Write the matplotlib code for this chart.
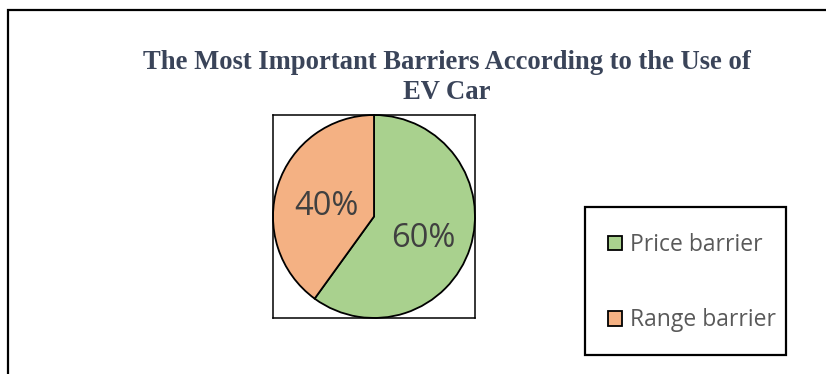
import matplotlib.pyplot as plt
from matplotlib.patches import Rectangle

# dados do gráfico
categorias = ['Price barrier', 'Range barrier']
valores = [60, 40]
cores = ['#a9d18e', '#f4b183']
titulo = 'The Most Important Barriers According to the Use of\nEV Car'

W, H = 826, 374
fig = plt.figure(figsize=(W / 100, H / 100), dpi=100)

# moldura externa (cortada à direita e embaixo)
fig.patches.append(Rectangle((8 / W, -0.1), 1.2, (H - 10) / H + 0.1,
                             transform=fig.transFigure, fill=False,
                             edgecolor='black', linewidth=1.6))

fig.text(447 / W, 1 - 77.5 / H, titulo, ha='center', va='center',
         family='Liberation Serif', fontweight='bold', fontsize=19.2,
         color='#3a4459', linespacing=1.27)

# eixo da pizza
ax = fig.add_axes([273 / W, 1 - 318 / H, 202 / W, 203 / H])
fatias, textos, pct = ax.pie(valores, colors=cores, startangle=90, counterclock=False,
                             autopct='%d%%', pctdistance=0.5,
                             wedgeprops=dict(edgecolor='black', linewidth=1.3),
                             textprops=dict(color='#404040', fontsize=23.5, family='Open Sans'))
for i, t in enumerate(pct):
    x, y = t.get_position()
    t.set_position((x + (0.015 if i == 0 else 0), y - 0.06))
ax.set_xlim(-1.0, 1.0)
ax.set_ylim(-1.0, 1.0)
ax.set_aspect('auto')
ax.set_frame_on(True)
ax.set_xticks([])
ax.set_yticks([])
for s in ax.spines.values():
    s.set_visible(True)
    s.set_linewidth(1.1)
    s.set_color('black')

# legenda sem moldura + caixa desenhada à parte
leg = fig.legend(fatias, categorias, loc='upper left',
                 bbox_to_anchor=(585 / W, 1 - 210 / H), bbox_transform=fig.transFigure,
                 frameon=False,
                 prop=dict(family='Open Sans', size=16.5), labelcolor='#595959',
                 handlelength=0.6, handleheight=0.6, handletextpad=0.35,
                 labelspacing=2.25, borderpad=1.0, borderaxespad=0)
fig.patches.append(Rectangle((585 / W, 1 - 355 / H), 201 / W, 148 / H,
                             transform=fig.transFigure, fill=False,
                             edgecolor='black', linewidth=1.6))

fig.savefig('out.png', dpi=100)
